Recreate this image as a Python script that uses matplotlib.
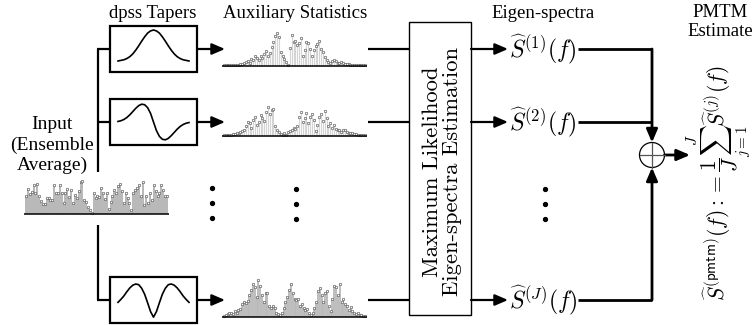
import numpy as np
import matplotlib.pyplot as plt
from matplotlib.patches import Rectangle, Circle, FancyArrowPatch

plt.rcParams['font.family'] = 'Liberation Serif'
plt.rcParams['mathtext.fontset'] = 'cm'

# column titles
titles = ["dpss Tapers", "Auxiliary Statistics", "Eigen-spectra", "PMTM\nEstimate"]
input_label = "Input\n(Ensemble\nAverage)"
ml_label = "Maximum Likelihood\nEigen-spectra Estimation"
eig_labels = [r"$\widehat{S}^{(1)}(f)$", r"$\widehat{S}^{(2)}(f)$", r"$\widehat{S}^{(J)}(f)$"]
pmtm_label = r"$\widehat{S}^{(\mathsf{pmtm})}(f) := \dfrac{1}{J}\sum_{j=1}^{J}\widehat{S}^{(j)}(f)$"

# input (ensemble average) samples (0..1)
input_vals = [0.53, 0.74, 0.58, 0.65, 0.84, 0.61, 0.89, 0.53, 0.37, 0.29, 0.29, 0.47,
              0.47, 0.42, 0.40, 0.86, 0.63, 0.61, 0.86, 0.61, 0.32, 0.63, 0.74, 0.50,
              0.72, 0.32, 0.55, 0.47, 0.68, 0.93, 0.97, 0.42, 0.34, 0.21, 0.13, 0.02,
              0.61, 0.47, 0.53, 0.50, 0.76, 0.61, 0.44, 0.61, 0.16, 0.34, 0.53, 0.72,
              0.61, 0.82, 0.89, 0.68, 0.32, 0.61, 0.47, 0.32, 0.11, 0.61, 0.72, 0.76,
              0.86, 0.53, 0.95, 0.26, 0.53, 0.32, 0.63, 0.42, 0.86, 0.68, 0.53, 0.61,
              0.84, 0.72, 0.53, 0.53]

# auxiliary statistics for taper 1, 2, J
aux1 = [0.02, 0.02, 0.02, 0.03, 0.02, 0.03, 0.03, 0.04, 0.03, 0.05, 0.06, 0.08, 0.12,
        0.15, 0.10, 0.20, 0.16, 0.28, 0.24, 0.18, 0.30, 0.22, 0.35, 0.42, 0.28, 0.38,
        0.55, 0.70, 0.86, 0.95, 0.82, 0.40, 0.30, 0.20, 0.12, 0.02, 0.52, 0.90, 0.70,
        0.72, 0.60, 0.66, 0.80, 0.30, 0.45, 0.70, 0.65, 0.50, 0.30, 0.45, 0.58, 0.62,
        0.72, 0.50, 0.40, 0.25, 0.18, 0.12, 0.10, 0.15, 0.18, 0.14, 0.10, 0.08, 0.12,
        0.08, 0.06, 0.05, 0.05, 0.04, 0.03, 0.03, 0.03, 0.02, 0.02, 0.02, 0.02, 0.02]
aux2 = [0.02, 0.02, 0.03, 0.03, 0.04, 0.05, 0.06, 0.08, 0.10, 0.12, 0.16, 0.20, 0.30,
        0.45, 0.40, 0.25, 0.50, 0.60, 0.35, 0.45, 0.65, 0.55, 0.48, 0.75, 0.92, 0.70,
        0.82, 0.85, 0.30, 0.20, 0.12, 0.06, 0.02, 0.08, 0.04, 0.12, 0.15, 0.18, 0.25,
        0.22, 0.30, 0.58, 0.75, 0.45, 0.55, 0.72, 0.40, 0.60, 0.70, 0.50, 0.15, 0.35,
        0.60, 0.70, 0.48, 0.78, 0.55, 0.30, 0.40, 0.25, 0.35, 0.22, 0.18, 0.20, 0.14,
        0.20, 0.18, 0.12, 0.10, 0.10, 0.08, 0.06, 0.05, 0.04, 0.03, 0.02, 0.02, 0.02]
aux3 = [0.02, 0.05, 0.08, 0.10, 0.12, 0.08, 0.15, 0.10, 0.18, 0.22, 0.35, 0.40, 0.38,
        0.42, 0.60, 0.72, 0.90, 0.80, 0.55, 1.00, 0.85, 0.60, 0.40, 0.65, 0.65, 0.30,
        0.25, 0.30, 0.25, 0.12, 0.08, 0.05, 0.10, 0.25, 0.40, 0.55, 0.72, 0.90, 0.65,
        0.50, 0.45, 0.48, 0.30, 0.35, 0.25, 0.20, 0.22, 0.10, 0.05, 0.12, 0.25, 0.40,
        0.70, 0.78, 0.60, 0.40, 0.65, 0.70, 0.30, 0.15, 0.50, 0.85, 0.82, 0.60, 0.88,
        0.40, 0.50, 0.35, 0.30, 0.20, 0.28, 0.15, 0.12, 0.08, 0.10, 0.06, 0.05, 0.04, 0.02]

# taper shapes (sketches of dpss orders 0, 1, 2)
taper1 = [0.00, 0.02, 0.04, 0.08, 0.14, 0.23, 0.35, 0.49, 0.64, 0.78, 0.90, 0.97, 1.00,
          0.97, 0.90, 0.78, 0.64, 0.49, 0.35, 0.23, 0.14, 0.08, 0.04, 0.02, 0.00]
taper2 = [0.03, 0.07, 0.14, 0.25, 0.40, 0.58, 0.76, 0.91, 0.99, 0.96, 0.80, 0.48, 0.00,
          -0.48, -0.80, -0.96, -0.99, -0.91, -0.76, -0.58, -0.40, -0.25, -0.14, -0.07, -0.03]
taper3 = [-0.08, 0.10, 0.30, 0.55, 0.77, 0.93, 1.00, 0.96, 0.75, 0.40, -0.10, -0.62, -0.95,
          -0.62, -0.10, 0.40, 0.75, 0.96, 1.00, 0.93, 0.77, 0.55, 0.30, 0.10, -0.08]

fig = plt.figure(figsize=(7.54, 3.25), dpi=100)
ax = fig.add_axes([0, 0, 1, 1])
ax.set_xlim(0, 754)
ax.set_ylim(325, 0)
ax.axis('off')

rows = [49, 122, 300]
LW = 1.6


def line(xs, ys, lw=LW):
    ax.plot(xs, ys, color='black', lw=lw, solid_capstyle='butt')


def arrow(p0, p1, lw=LW):
    ax.add_patch(FancyArrowPatch(p0, p1, arrowstyle='-|>,head_length=0.65,head_width=0.28',
                                 mutation_scale=12, lw=lw, color='black',
                                 shrinkA=0, shrinkB=0))


def stems(x0, x1, base, height, vals, stem_col, stem_lw):
    xs = np.linspace(x0, x1, len(vals))
    ys = base - height * np.asarray(vals)
    ax.vlines(xs, base, ys, color=stem_col, lw=stem_lw)
    ax.plot(xs, ys, 'o', ms=1.8, mfc='white', mec='#555555', mew=0.45)
    line([x0 - 2, x1 + 2], [base, base], lw=1.1)


def dots(x, y0):
    ax.plot([x, x, x], [y0, y0 + 15, y0 + 30], 'o', color='black', ms=2.8)


# titles
ax.text(153, 13, titles[0], ha='center', va='center', fontsize=13.5)
ax.text(295, 13, titles[1], ha='center', va='center', fontsize=13.5)
ax.text(543, 14, titles[2], ha='center', va='center', fontsize=13.5)
ax.text(720, 22, titles[3], ha='center', va='center', fontsize=13.5, linespacing=1.15)

# input
ax.text(52, 145, input_label, ha='center', va='center', fontsize=14, linespacing=1.25)
stems(26, 167, 214, 34, input_vals, '#b8b8b8', 1.4)

# bus to tapers
line([98, 98], [rows[0], 172])
line([98, 98], [225, rows[2]])
for r in rows:
    line([97.2, 110], [r, r])

# taper boxes
for r, tap, amp, mid in zip(rows, [taper1, taper2, taper3], [31, 18, 17], [12, 0, -1]):
    ax.add_patch(Rectangle((110, r - 23), 87, 46, fill=False, lw=LW, ec='black'))
    tx = np.linspace(118, 189, len(tap))
    if tap is taper1:
        ty = r + 12 - amp * np.asarray(tap)
    else:
        ty = r - mid - amp * np.asarray(tap)
    ax.plot(tx, ty, color='black', lw=1.2)
    arrow((197, r), (225, r))

# auxiliary statistics
stems(224, 365, 66, 35, aux1, '#d4d4d4', 0.8)
stems(224, 365, 136, 32, aux2, '#d4d4d4', 0.8)
stems(224, 365, 317, 37, aux3, '#b8b8b8', 1.3)

dots(212, 188)
dots(296, 189)
dots(545, 189)

# ML estimation block
for r in rows:
    line([368, 409], [r, r])
ax.add_patch(Rectangle((409, 22), 62, 293, fill=False, lw=1.0, ec='black'))
ax.text(442, 172, ml_label, rotation=90, ha='center', va='center', fontsize=16.3,
        family='cmr10', linespacing=1.0)

# eigen-spectra
for r, lab in zip(rows, eig_labels):
    arrow((471, r), (508, r))
    ax.text(509, r + 1, lab, ha='left', va='center', fontsize=17)
    line([578, 652], [r, r], lw=2.0)

# summation node
cx, cy, rad = 652, 155, 12.5
ax.add_patch(Circle((cx, cy), rad, fill=False, lw=0.9, ec='black'))
ax.plot([cx - rad, cx + rad], [cy, cy], color='#555555', lw=0.9)
ax.plot([cx, cx], [cy - rad, cy + rad], color='#555555', lw=0.9)
arrow((cx, rows[0]), (cx, cy - rad), lw=2.0)
arrow((cx, rows[2]), (cx, cy + rad), lw=2.0)
arrow((cx + rad, cy), (690, cy), lw=2.0)

ax.text(719, 183, pmtm_label, rotation=90, ha='center', va='center', fontsize=15.5)

fig.savefig('out.png', dpi=100)
